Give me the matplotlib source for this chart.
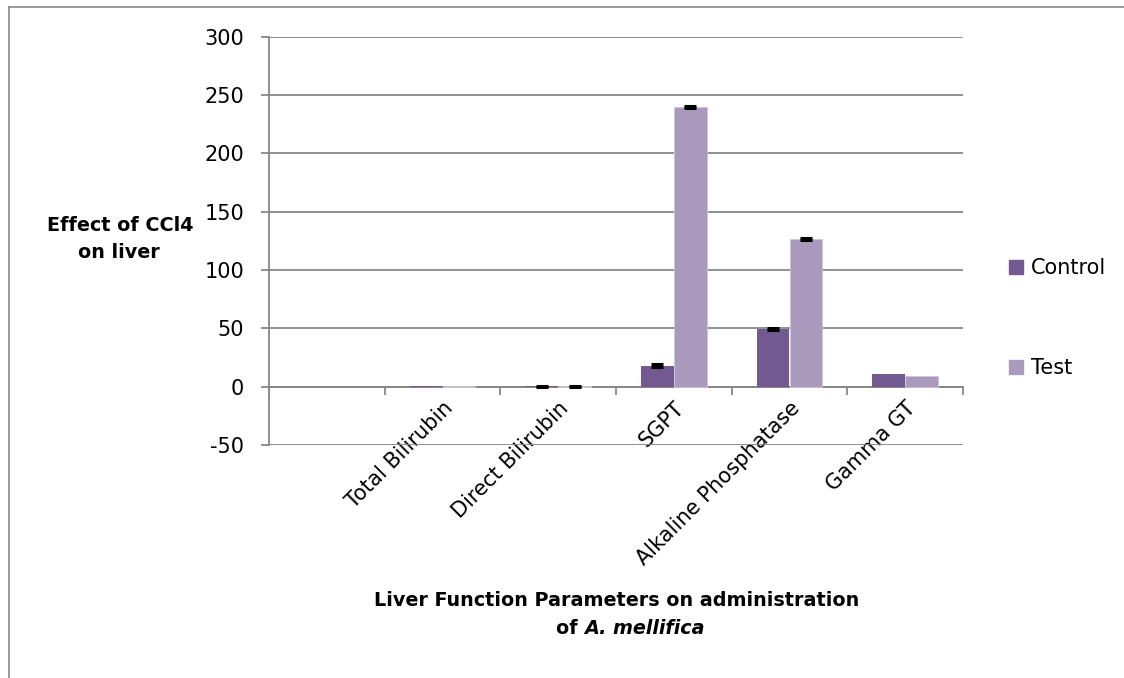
import numpy as np
import matplotlib
matplotlib.use('Agg')
from matplotlib import pyplot as plt
from matplotlib.lines import Line2D
from matplotlib.patches import Patch

plt.rcParams['font.family'] = 'DejaVu Sans'
plt.rcParams['axes.unicode_minus'] = False

# categories (first slot is empty in the original chart)
categories = ['', 'Total Bilirubin', 'Direct Bilirubin', 'SGPT',
              'Alkaline Phosphatase', 'Gamma GT']
control = [np.nan, 0.9, 0.3, 18, 49.5, 11]
test = [np.nan, 0.4, 0.3, 240, 126.5, 9]
control_err = [np.nan, np.nan, 0.4, 1.0, 0.6, np.nan]
test_err = [np.nan, np.nan, 0.4, 0.8, 0.8, np.nan]
yticks = [-50, 0, 50, 100, 150, 200, 250, 300]

c_control = '#72598F'
c_test = '#A99ABD'
c_grid = '#878787'

W, H = 1124, 678
fig = plt.figure(figsize=(W / 100, H / 100), dpi=100)

# plot area in pixels: x 269..963, y 36.6 (300) .. 445 (-50)
ax = fig.add_axes([269 / W, 1 - 445 / H, (963 - 269) / W, (445 - 36.6) / H])

x = np.arange(len(categories))
bw = 0.285
ax.bar(x - bw / 2, control, bw, color=c_control, zorder=3)
ax.bar(x + bw / 2, test, bw, color=c_test, edgecolor='#CFC6DC', linewidth=0.6,
       zorder=3)
ax.errorbar(x - bw / 2, control, yerr=control_err, fmt='none', ecolor='black',
            elinewidth=2, capsize=4.3, capthick=2.2, zorder=4)
ax.errorbar(x + bw / 2, test, yerr=test_err, fmt='none', ecolor='black',
            elinewidth=2, capsize=4.3, capthick=2.2, zorder=4)

ax.set_xlim(-0.5, len(categories) - 0.5)
ax.set_ylim(-50, 300)
ax.set_yticks(yticks)
ax.yaxis.grid(True, color=c_grid, linewidth=1.3, zorder=0)
ax.set_axisbelow(True)

for s in ['top', 'right']:
    ax.spines[s].set_visible(False)
ax.spines['left'].set_color(c_grid)
ax.spines['left'].set_linewidth(1.3)
ax.spines['bottom'].set_position(('data', 0))
ax.spines['bottom'].set_color(c_grid)
ax.spines['bottom'].set_linewidth(1.3)

# tick marks at category boundaries, labels at centers
ax.set_xticks(np.arange(len(categories) + 1) - 0.5)
ax.set_xticklabels([])
ax.set_xticks(x, minor=True)
ax.set_xticklabels(categories, minor=True, rotation=45, ha='right',
                   rotation_mode='anchor', fontsize=15)
ax.tick_params(axis='x', which='major', length=6, width=1.3, color=c_grid,
               direction='out')
ax.tick_params(axis='x', which='minor', length=0, pad=8)
ax.tick_params(axis='y', length=6, width=1.3, color=c_grid, labelsize=15,
               pad=12)

# y label (two lines, bold)
fig.text(120 / W, 1 - 231 / H, 'Effect of CCl4', ha='center', va='baseline',
         fontsize=13.8, fontweight='bold')
fig.text(119 / W, 1 - 258 / H, 'on liver', ha='center', va='baseline',
         fontsize=13.8, fontweight='bold')

# x title, second line mixes bold and bold italic
fig.text(617 / W, 1 - 606 / H, 'Liver Function Parameters on administration',
         ha='center', va='baseline', fontsize=13.8, fontweight='bold')
renderer = fig.canvas.get_renderer()
t1 = fig.text(0, 1 - 634 / H, 'of ', ha='left', va='baseline', fontsize=13.8,
              fontweight='bold')
t2 = fig.text(0, 1 - 634 / H, 'A. mellifica', ha='left', va='baseline',
              fontsize=13.8, fontweight='bold', fontstyle='italic')
w1 = t1.get_window_extent(renderer).width
w2 = t2.get_window_extent(renderer).width
x0 = 630 - (w1 + w2) / 2
t1.set_x(x0 / W)
t2.set_x((x0 + w1) / W)

# legend
handles = [Patch(color=c_control), Patch(color=c_test)]
fig.legend(handles, ['Control', 'Test'], loc='center left',
           bbox_to_anchor=(1009 / W, 1 - 318 / H), frameon=False,
           fontsize=15, handlelength=0.65, handleheight=0.65,
           handletextpad=0.4, labelspacing=3.85, borderpad=0, borderaxespad=0)

# outer chart border (left and top edges visible)
fig.add_artist(Line2D([8.5 / W, 8.5 / W], [0, 1 - 7 / H], color=c_grid,
                      linewidth=1.2, transform=fig.transFigure))
fig.add_artist(Line2D([8.5 / W, 1], [1 - 7 / H, 1 - 7 / H], color=c_grid,
                      linewidth=1.2, transform=fig.transFigure))

fig.savefig('out.png', dpi=100)
